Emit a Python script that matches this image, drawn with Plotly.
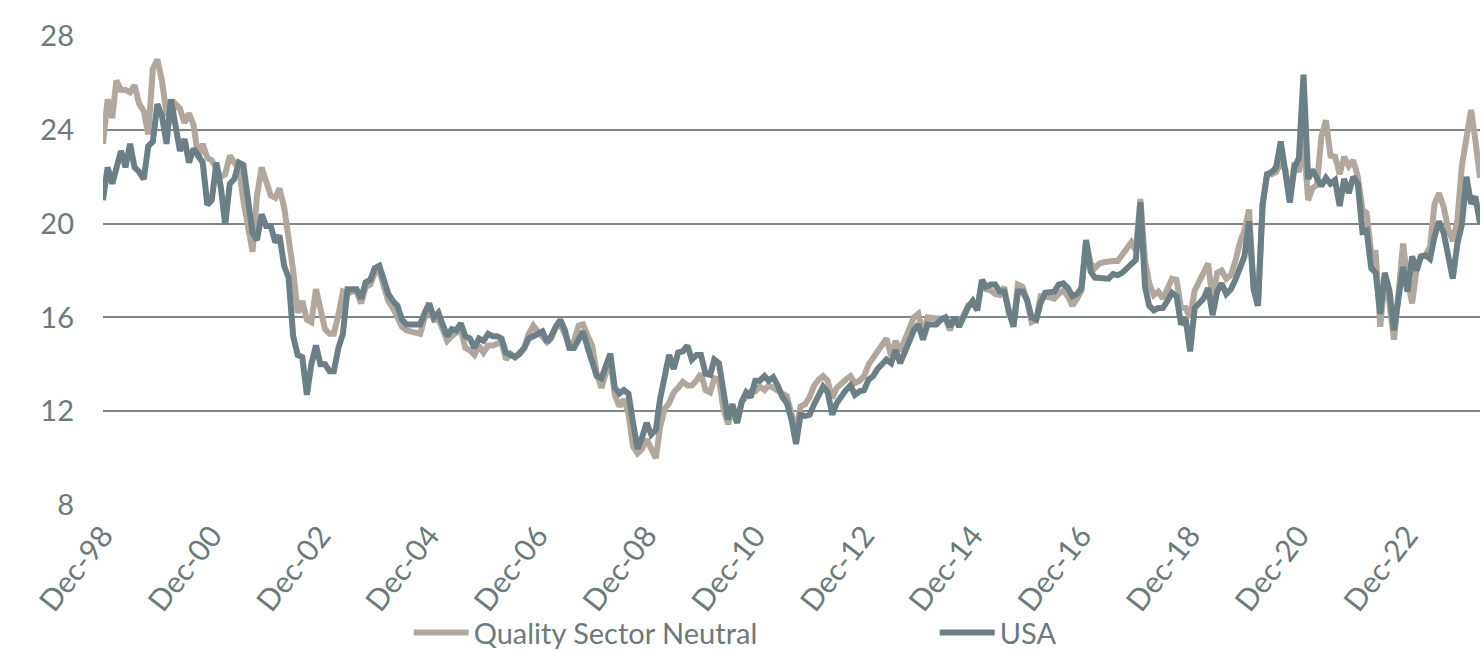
import pandas as pd
import plotly.graph_objects as go

start_month = "1998-12-01"

quality_sector_neutral = [
    23.4, 25.3, 24.5, 26.1, 25.7, 25.7, 25.6, 25.9, 25.1, 24.8,
    23.8, 26.6, 27.0, 26.1, 24.7, 24.5, 25.1, 24.9, 24.3, 24.7,
    24.2, 22.8, 23.4, 22.8, 22.7, 22.4, 22.0, 22.1, 22.9, 22.6,
    22.4, 21.0, 19.8, 18.8, 21.2, 22.4, 21.8, 21.2, 21.1, 21.5,
    20.7, 19.4, 18.0, 16.2, 16.7, 15.9, 15.8, 17.2, 16.2, 15.5,
    15.3, 15.3, 16.1, 17.1, 17.0, 17.1, 17.1, 16.6, 17.3, 17.4,
    17.9, 18.0, 17.3, 16.7, 16.4, 16.0, 15.6, 15.45, 15.4, 15.35,
    15.3, 16.0, 16.4, 15.9, 15.95, 15.5, 15.0, 15.2, 15.35, 15.5,
    14.7, 14.6, 14.4, 14.8, 14.5, 14.8, 14.8, 14.85, 14.95, 14.2,
    14.45, 14.3, 14.5, 14.7, 15.3, 15.65, 15.4, 15.2, 14.95, 15.1,
    15.6, 15.7, 15.3, 14.7, 15.0, 15.65, 15.7, 15.2, 14.8, 13.6,
    13.0, 13.6, 14.2, 12.7, 12.2, 12.5, 11.9, 10.5, 10.2, 10.4,
    10.8, 10.4, 10.0, 11.3, 12.1, 12.35, 12.8, 13.0, 13.25, 13.1,
    13.1, 13.3, 13.6, 12.9, 12.8, 13.4, 13.35, 12.1, 11.45, 12.1,
    11.5, 12.4, 12.6, 12.85, 12.85, 13.05, 12.9, 13.1, 13.0, 12.85,
    12.75, 12.65, 11.9, 11.15, 12.2, 12.3, 12.6, 13.1, 13.35, 13.5,
    13.3, 12.55, 13.0, 13.2, 13.35, 13.5, 13.2, 13.3, 13.5, 14.0,
    14.3, 14.6, 14.8, 15.1, 14.35, 15.0, 14.55, 15.1, 15.5, 16.0,
    16.15, 15.3, 16.0, 15.95, 15.95, 15.95, 15.95, 15.45, 16.0, 15.7,
    16.1, 16.5, 16.55, 16.45, 17.5, 17.2, 17.15, 17.0, 16.95, 17.3,
    16.15, 15.75, 17.4, 17.3, 16.75, 15.8, 15.9, 16.9, 16.9, 16.85,
    16.8, 17.0, 17.15, 16.9, 16.5, 16.8, 17.15, 19.2, 18.3, 18.1,
    18.3, 18.35, 18.4, 18.4, 18.4, 18.65, 18.95, 19.2, 18.85, 21.05,
    18.4, 17.45, 16.95, 17.1, 16.8, 17.25, 17.65, 17.6, 16.4, 16.4,
    16.0, 17.15, 17.5, 17.9, 18.3, 16.75, 17.9, 18.0, 17.65, 17.8,
    18.4, 19.2, 19.7, 20.6, 17.2, 16.5, 20.8, 22.1, 22.1, 22.2,
    22.6, 22.3, 21.0, 22.6, 22.2, 23.7, 21.0, 21.5, 21.65, 23.7,
    24.4, 22.9, 22.85, 22.1, 22.85, 22.45, 22.7, 22.0, 20.6, 20.45,
    18.75, 18.75, 15.6, 17.75, 16.6, 15.05, 17.0, 19.15, 17.6, 16.6,
    18.15, 18.6, 18.65, 19.0, 20.85, 21.3, 20.7, 19.75, 19.25, 20.15,
    22.45, 23.85, 24.85, 23.55, 21.95,
]

usa = [
    21.0, 22.4, 21.7, 22.3, 23.1, 22.4, 23.4, 22.4, 22.2, 21.9,
    23.3, 23.5, 25.1, 24.6, 23.4, 25.3, 24.1, 23.1, 23.6, 22.6,
    23.2, 22.9, 22.6, 20.8, 21.0, 22.6, 21.5, 19.95, 21.7, 21.9,
    22.6, 22.5, 21.0, 19.6, 19.3, 20.4, 19.9, 19.9, 19.2, 19.5,
    18.2, 17.7, 15.2, 14.4, 14.3, 12.7, 14.0, 14.8, 14.0, 14.0,
    13.7, 13.7, 14.7, 15.3, 17.2, 17.2, 17.2, 16.8, 17.5, 17.6,
    18.1, 18.2, 17.5, 17.0, 16.7, 16.5, 15.9, 15.7, 15.7, 15.7,
    15.7, 16.2, 16.6, 16.0, 16.2, 15.7, 15.2, 15.5, 15.45, 15.75,
    15.2, 15.1, 14.7, 15.1, 15.0, 15.3, 15.2, 15.2, 15.1, 14.5,
    14.4, 14.3, 14.45, 14.7, 15.1, 15.2, 15.3, 15.4, 14.95, 15.2,
    15.6, 15.9, 15.45, 14.7, 14.7, 15.1, 15.4, 14.7, 14.0, 13.5,
    13.4, 13.9, 14.45, 13.0, 12.75, 12.9, 12.75, 11.5, 10.4, 10.9,
    11.5, 11.0, 11.2, 12.5, 13.6, 14.4, 13.8, 14.5, 14.55, 14.8,
    14.2, 14.4, 14.4, 13.6, 13.55, 14.2, 14.05, 12.8, 11.65, 12.3,
    11.5, 12.4, 12.8, 12.6, 13.3, 13.3, 13.5, 13.3, 13.45, 13.1,
    12.6, 12.35, 11.65, 10.6, 11.85, 11.8, 11.85, 12.3, 12.7, 13.05,
    12.8, 11.85, 12.35, 12.65, 12.9, 13.1, 12.7, 12.85, 12.9, 13.35,
    13.5, 13.8, 14.0, 14.2, 14.05, 14.6, 14.05, 14.5, 15.0, 15.45,
    15.7, 15.05, 15.7, 15.7, 15.7, 15.9, 16.0, 15.6, 16.0, 15.6,
    16.0, 16.45, 16.7, 16.3, 17.6, 17.3, 17.4, 17.4, 17.1, 17.1,
    16.3, 15.6, 17.1, 17.1, 16.75, 16.0, 15.9, 16.6, 17.05, 17.1,
    17.1, 17.4, 17.45, 17.25, 16.9, 17.0, 17.25, 19.3, 17.95, 17.7,
    17.7, 17.7, 17.65, 17.85, 17.8, 17.9, 18.1, 18.3, 18.45, 20.9,
    17.3, 16.5, 16.3, 16.4, 16.4, 16.7, 17.05, 16.9, 15.7, 15.95,
    14.55, 16.4, 16.6, 16.8, 17.25, 16.1, 17.1, 17.45, 17.0, 17.2,
    17.6, 18.2, 18.6, 20.1, 17.2, 16.5, 20.8, 22.1, 22.2, 22.4,
    23.5, 22.2, 20.9, 22.4, 22.8, 26.35, 21.9, 22.3, 22.0, 21.6,
    21.95, 21.7, 21.85, 20.75, 21.9, 21.3, 22.0, 21.7, 19.65, 19.7,
    18.1, 17.9, 16.15, 17.9, 17.15, 15.45, 16.8, 18.15, 17.1, 18.6,
    18.0, 18.6, 18.65, 18.5, 19.45, 20.1, 19.6, 18.45, 17.65, 19.15,
    19.95, 22.0, 20.85, 21.15, 20.0,
]

tick_labels = ["Dec-98", "Dec-00", "Dec-02", "Dec-04", "Dec-06", "Dec-08",
               "Dec-10", "Dec-12", "Dec-14", "Dec-16", "Dec-18", "Dec-20", "Dec-22"]
y_ticks = [8, 12, 16, 20, 24, 28]

series_names = ["Quality Sector Neutral", "USA"]
series_colors = ["#B2A79C", "#6B8086"]

dates = pd.date_range(start_month, periods=len(usa), freq="MS")
tick_vals = pd.to_datetime(tick_labels, format="%b-%y")

FONT = "Lato, Carlito, Calibri, 'Liberation Sans', sans-serif"
TEXT_COLOR = "#6C7A7B"
GRID_COLOR = "#7E8888"

fig = go.Figure()
fig.add_trace(go.Scatter(x=dates, y=quality_sector_neutral, mode="lines",
                         name=series_names[0], showlegend=True,
                         line=dict(color=series_colors[0], width=6),
                         legend="legend"))
fig.add_trace(go.Scatter(x=dates, y=usa, mode="lines",
                         name=series_names[1], showlegend=True,
                         line=dict(color=series_colors[1], width=6),
                         legend="legend2"))

fig.update_layout(
    width=1482, height=651,
    showlegend=True,
    margin=dict(l=103, r=2, t=36, b=146, autoexpand=False),
    paper_bgcolor="white", plot_bgcolor="white",
    font=dict(family=FONT, size=29, color=TEXT_COLOR),
    legend=dict(orientation="h", x=0.222, y=-0.272, xanchor="left", yanchor="middle",
                itemwidth=55,
                font=dict(family=FONT, size=29, color=TEXT_COLOR),
                bgcolor="rgba(0,0,0,0)"),
    legend2=dict(orientation="h", x=0.604, y=-0.272, xanchor="left", yanchor="middle",
                 itemwidth=55,
                 font=dict(family=FONT, size=29, color=TEXT_COLOR),
                 bgcolor="rgba(0,0,0,0)"),
    xaxis=dict(
        range=[dates[0], dates[-1]], automargin=False,
        tickmode="array", tickvals=tick_vals, ticktext=tick_labels,
        tickangle=-52, showgrid=False, zeroline=False, showline=False,
        ticks="", ticklabelstandoff=6,
        tickfont=dict(family=FONT, size=30, color=TEXT_COLOR),
    ),
    yaxis=dict(
        range=[8, 28], tickmode="array", tickvals=y_ticks, automargin=False,
        showgrid=True, gridcolor=GRID_COLOR, gridwidth=1.5,
        zeroline=False, showline=False, ticks="", ticklabelstandoff=28,
        tickfont=dict(family=FONT, size=29, color=TEXT_COLOR),
    ),
)

# Remove the default page margin so the figure fills the window exactly.
fig.write_html(
    "out.html",
    config={"displayModeBar": False},
    post_script="document.body.style.margin='0';document.body.style.overflow='hidden';",
)
